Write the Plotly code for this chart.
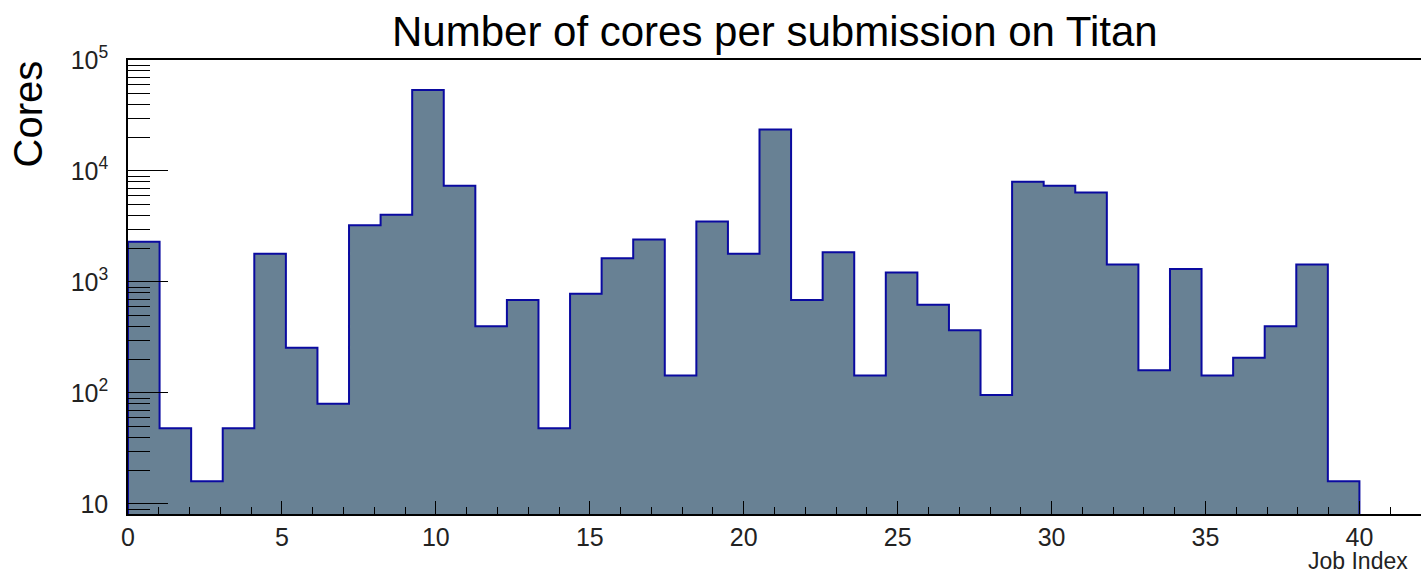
import numpy as np
import plotly.graph_objects as go

# ---- data -------------------------------------------------------------
title_text = "Number of cores per submission on Titan"
x_label = "Job Index"
y_label = "Cores"

n_bins = 39
x_low, x_high = 0.0, 40.0

cores = [2304, 48, 16, 48, 1792, 256, 80, 3248, 4032, 53600,
         7360, 400, 688, 48, 784, 1632, 2416, 144, 3504, 1792,
         23600, 688, 1856, 144, 1216, 624, 368, 96, 8000, 7360,
         6400, 1440, 160, 1312, 144, 208, 400, 1440, 16]

x_tick_step = 5
x_axis_max = 42
y_axis_min = 8.12
y_axis_max = 1e5

# ---- build histogram outline via the library's step shape ----------
edges = np.linspace(x_low, x_high, n_bins + 1)
floor_val = 1.0  # below visible range, clipped by the axes
xs = [edges[0]] + list(edges[:-1]) + [edges[-1]]
ys = [floor_val] + list(cores) + [floor_val]

fill_color = "rgb(104,129,148)"
line_color = "rgb(10,10,160)"
font_family = "Liberation Sans, Arial, Helvetica, sans-serif"

fig = go.Figure()
fig.add_trace(go.Scatter(
    x=xs, y=ys, mode="lines",
    line=dict(shape="hv", color=line_color, width=2),
    fill="toself", fillcolor=fill_color,
    hoverinfo="skip", showlegend=False,
))

fig.update_layout(
    width=1421, height=573,
    margin=dict(l=128, r=0, t=60, b=59, autoexpand=False),
    paper_bgcolor="white", plot_bgcolor="white",
    font=dict(family=font_family, color="black"),
    showlegend=False,
)

fig.update_xaxes(
    range=[0, x_axis_max], automargin=False,
    showgrid=False, zeroline=False,
    showline=True, linecolor="black", linewidth=1.5, mirror=True,
    ticks="inside", ticklen=13, tickwidth=1.2, tickcolor="black",
    tick0=0, dtick=x_tick_step,
    minor=dict(ticks="inside", ticklen=7, tickwidth=1.2, tickcolor="black", dtick=1, showgrid=False),
    tickfont=dict(size=25, family=font_family, color="#222"),
    ticklabelstandoff=0,
)

fig.update_yaxes(
    type="log", automargin=False,
    range=[np.log10(y_axis_min), np.log10(y_axis_max)],
    showgrid=False, zeroline=False,
    showline=True, linecolor="black", linewidth=1.5,
    ticks="inside", ticklen=40, tickwidth=1.2, tickcolor="black",
    dtick=1, exponentformat="power",
    minor=dict(ticks="inside", ticklen=22, tickwidth=1.2, tickcolor="black", dtick="D1", showgrid=False),
    tickfont=dict(size=20, family=font_family, color="#222"),
    ticklabelstandoff=14,
)

fig.add_annotation(
    text=title_text, xref="paper", yref="paper",
    x=0.5, y=1 + (60 - 31) / 454, xanchor="center", yanchor="middle",
    showarrow=False, font=dict(size=42, family=font_family, color="black"),
)
fig.add_annotation(
    text=y_label, xref="paper", yref="paper", textangle=-90,
    x=(27.5 - 128) / 1293, y=(514 - 114) / 454,
    xanchor="center", yanchor="middle",
    showarrow=False, font=dict(size=40, family=font_family, color="black"),
)
fig.add_annotation(
    text=x_label, xref="paper", yref="paper",
    x=(1410 - 128) / 1293, y=(514 - 561) / 454,
    xanchor="right", yanchor="middle",
    showarrow=False, font=dict(size=23, family=font_family, color="#222"),
)

fig.write_html(
    "out.html",
    config={"displayModeBar": False},
    post_script="document.body.style.margin='0';document.body.style.overflow='hidden';",
)
